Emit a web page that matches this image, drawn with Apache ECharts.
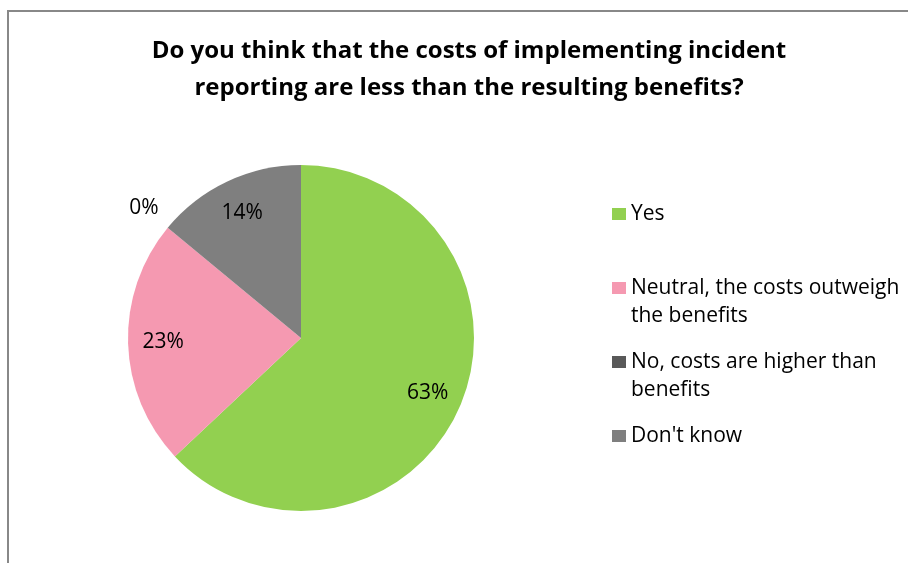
<!DOCTYPE html>
<html>
<head>
<meta charset="utf-8">
<script src="https://cdn.jsdelivr.net/npm/echarts@6/dist/echarts.min.js"></script>
<style>
  html, body { margin: 0; padding: 0; background: #fff; }
  #chart { width: 908px; height: 563px; }
</style>
</head>
<body>
<div id="chart"></div>
<script>
// Survey answers and their shares (%)
const categories = [
  'Yes',
  'Neutral, the costs outweigh\nthe benefits',
  'No, costs are higher than\nbenefits',
  "Don't know"
];
const shares = [63, 23, 0, 14];
const colors = ['#92D050', '#F599B1', '#595959', '#7F7F7F'];
const titleText = 'Do you think that the costs of implementing incident\nreporting are less than the resulting benefits?';

const FONT = '"Open Sans"';
const LINE = 28;

const pieData = categories.map((name, i) => ({
  name,
  value: shares[i],
  itemStyle: { color: colors[i] }
}));

// Percentages inside the slices (mid radius of this ring)
const innerLabels = categories.map((name, i) => ({
  name,
  value: shares[i],
  label: { show: shares[i] > 0 }
}));

// Percentages of empty slices, just outside the rim
const outerLabels = categories.map((name, i) => ({
  name,
  value: shares[i],
  label: { show: shares[i] === 0 }
}));

const labelStyle = {
  position: 'inside',
  formatter: '{c}%',
  fontFamily: FONT,
  fontSize: 21,
  color: '#000'
};

const chart = echarts.init(document.getElementById('chart'), null, { renderer: 'canvas' });
chart.setOption({
  animation: false,
  backgroundColor: '#fff',
  graphic: [{
    type: 'rect',
    shape: { x: 8, y: 11, width: 920, height: 570 },
    style: { fill: 'none', stroke: '#888888', lineWidth: 2 },
    silent: true,
    z: 0
  }],
  title: {
    text: titleText,
    left: 464,
    top: 28,
    textAlign: 'center',
    textStyle: {
      fontFamily: FONT,
      fontWeight: 'bold',
      fontSize: 24,
      lineHeight: 37,
      color: '#000'
    }
  },
  legend: {
    orient: 'vertical',
    left: 607,
    top: 167,
    itemWidth: 14,
    itemHeight: 12,
    itemGap: -10,
    icon: 'rect',
    // a blank first line keeps the swatch level with the first text line
    formatter: name => '\n' + name + (name.indexOf('\n') >= 0 ? '' : '\n'),
    textStyle: {
      fontFamily: FONT,
      fontSize: 21,
      lineHeight: LINE,
      color: '#000'
    }
  },
  series: [
    {
      type: 'pie',
      center: [301, 338],
      radius: [0, 173],
      startAngle: 90,
      clockwise: true,
      data: pieData,
      label: { show: false },
      labelLine: { show: false },
      emphasis: { disabled: true }
    },
    {
      type: 'pie',
      center: [301, 338],
      radius: [97, 173],
      startAngle: 90,
      clockwise: true,
      silent: true,
      data: innerLabels,
      itemStyle: { color: 'rgba(0,0,0,0)' },
      label: labelStyle,
      labelLine: { show: false },
      emphasis: { disabled: true }
    },
    {
      type: 'pie',
      center: [301, 338],
      radius: [189, 213],
      startAngle: 90,
      clockwise: true,
      silent: true,
      data: outerLabels,
      itemStyle: { color: 'rgba(0,0,0,0)' },
      label: labelStyle,
      labelLine: { show: false },
      emphasis: { disabled: true }
    }
  ]
});
</script>
</body>
</html>
